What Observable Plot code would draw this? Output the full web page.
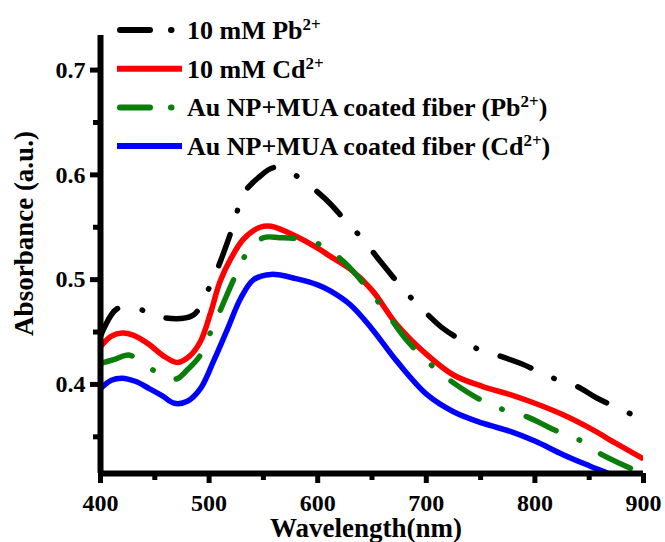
<!DOCTYPE html>
<html>
<head>
<meta charset="utf-8">
<script src="https://cdn.jsdelivr.net/npm/d3@7"></script>
<script src="https://cdn.jsdelivr.net/npm/@observablehq/plot@0.6"></script>
<style>
  html, body { margin: 0; padding: 0; background: #fff; }
  #wrap { position: relative; width: 665px; height: 542px; }
  #legend { position: absolute; left: 0; top: 0; }
</style>
</head>
<body>
<div id="wrap"></div>
<script>
// ---- data ----
const pbWl  = [400, 415, 435, 455, 485, 497, 506, 517, 524, 531, 545, 560, 577, 596, 612, 624, 642, 658, 683, 701, 716, 747, 768, 787, 817, 839, 857, 888];
const pbAbs = [0.446, 0.472, 0.472, 0.464, 0.466, 0.486, 0.506, 0.536, 0.558, 0.581, 0.597, 0.607, 0.601, 0.587, 0.572, 0.558, 0.538, 0.517, 0.486, 0.467, 0.453, 0.434, 0.427, 0.420, 0.406, 0.398, 0.387, 0.372];

const cdWl  = [400, 410, 420, 430, 445, 457, 471, 482, 492, 501, 510, 520, 532, 547, 557, 581, 600, 612, 630, 650, 673, 701, 725, 752, 778, 800, 826, 851, 876, 900];
const cdAbs = [0.436, 0.446, 0.449, 0.447, 0.438, 0.428, 0.421, 0.427, 0.441, 0.467, 0.498, 0.520, 0.539, 0.550, 0.551, 0.541, 0.530, 0.522, 0.510, 0.490, 0.457, 0.428, 0.409, 0.398, 0.390, 0.382, 0.371, 0.358, 0.343, 0.329];

const fibPbWl  = [400, 413, 426, 437, 448, 469, 480, 492, 501, 510, 523, 534, 550, 565, 582, 603, 624, 648, 667, 683, 704, 719, 747, 768, 793, 817, 839, 860, 888];
const fibPbAbs = [0.420, 0.424, 0.428, 0.422, 0.414, 0.405, 0.414, 0.428, 0.449, 0.470, 0.501, 0.524, 0.540, 0.540, 0.539, 0.533, 0.517, 0.489, 0.463, 0.441, 0.419, 0.406, 0.387, 0.377, 0.369, 0.357, 0.348, 0.334, 0.320];

const fibCdWl  = [400, 410, 420, 432, 445, 457, 468, 480, 492, 504, 517, 529, 541, 557, 580, 600, 612, 630, 650, 673, 701, 725, 752, 778, 800, 826, 851, 870, 880];
const fibCdAbs = [0.396, 0.404, 0.406, 0.403, 0.396, 0.389, 0.382, 0.384, 0.396, 0.422, 0.453, 0.482, 0.500, 0.505, 0.501, 0.495, 0.489, 0.476, 0.453, 0.422, 0.390, 0.374, 0.363, 0.355, 0.346, 0.333, 0.322, 0.314, 0.308];

const xDomain = [400, 900];
const yDomain = [0.315, 0.733];
const xTicks = [400, 500, 600, 700, 800, 900];
const xMinor = [450, 550, 650, 750, 850];
const yTicks = [0.4, 0.5, 0.6, 0.7];
const yMinor = [0.35, 0.45, 0.55, 0.65];

const seriesNames = ["10 mM Pb", "10 mM Cd", "Au NP+MUA coated fiber (Pb", "Au NP+MUA coated fiber (Cd"];
const seriesSup = ["2+", "2+", "2+", "2+"];
const seriesTail = ["", "", ")", ")"];
const seriesColors = ["#000000", "#ff0000", "#0a7d0a", "#0000ff"];
const seriesDash = ["33,25,0.5,25", null, "33,25,0.5,25", null];
const legendDash = "30,21,0.5,21";

const FONT = "'Liberation Serif', 'Times New Roman', serif";
const LW = 5.5;

const lineOpts = (i) => ({
  stroke: seriesColors[i],
  strokeWidth: LW,
  strokeDasharray: seriesDash[i] || undefined,
  strokeLinecap: seriesDash[i] ? "round" : "butt",
  curve: "catmull-rom",
  clip: true
});

const chart = Plot.plot({
  width: 665,
  height: 542,
  marginLeft: 100,
  marginRight: 22,
  marginTop: 35,
  marginBottom: 69,
  x: { domain: xDomain },
  y: { domain: yDomain },
  style: { fontFamily: FONT, fontWeight: "bold", fontSize: "24px", background: "white", color: "black" },
  marks: [
    Plot.line(pbAbs, { x: pbWl, y: pbAbs, ...lineOpts(0) }),
    Plot.line(cdAbs, { x: cdWl, y: cdAbs, ...lineOpts(1) }),
    Plot.line(fibPbAbs, { x: fibPbWl, y: fibPbAbs, ...lineOpts(2) }),
    Plot.line(fibCdAbs, { x: fibCdWl, y: fibCdAbs, ...lineOpts(3) }),
    Plot.ruleY([yDomain[0]], { stroke: "black", strokeWidth: 6 }),
    Plot.ruleX([xDomain[0]], { stroke: "black", strokeWidth: 6 }),
    Plot.axisX(xTicks, { tickSize: 10, strokeWidth: 5, tickPadding: 10, label: null, fontSize: 24, fontWeight: "bold" }),
    Plot.axisX(xMinor, { tickSize: 7, strokeWidth: 5, tickFormat: () => "", label: null }),
    Plot.axisY(yTicks, { tickSize: 10, strokeWidth: 5, tickPadding: 5, label: null, tickFormat: d => d.toFixed(1), fontSize: 24, fontWeight: "bold" }),
    Plot.axisY(yMinor, { tickSize: 7, strokeWidth: 5, tickFormat: () => "", label: null }),
    Plot.text(["Wavelength(nm)"], { frameAnchor: "bottom", dy: 55, dx: -6, fontSize: 27, fontWeight: "bold", lineAnchor: "middle" }),
    Plot.text(["Absorbance (a.u.)"], { frameAnchor: "left", textAnchor: "middle", rotate: -90, dx: -76, dy: -21, fontSize: 27, fontWeight: "bold", lineAnchor: "middle" })
  ]
});

const wrap = document.getElementById("wrap");
wrap.appendChild(chart);

// ---- legend (overlay, top-left inside the plot) ----
const NS = "http://www.w3.org/2000/svg";
const leg = document.createElementNS(NS, "svg");
leg.setAttribute("id", "legend");
leg.setAttribute("width", 665);
leg.setAttribute("height", 170);
const rowY0 = 30, rowStep = 38.7, lx0 = 117, lx1 = 182, tx = 187;
seriesNames.forEach((name, i) => {
  const cy = rowY0 + i * rowStep;
  const ln = document.createElementNS(NS, "line");
  ln.setAttribute("x1", lx0 + (seriesDash[i] ? 3 : 0));
  ln.setAttribute("x2", lx1 - (seriesDash[i] ? 3 : 0));
  ln.setAttribute("y1", cy);
  ln.setAttribute("y2", cy);
  ln.setAttribute("stroke", seriesColors[i]);
  ln.setAttribute("stroke-width", 6);
  if (seriesDash[i]) {
    ln.setAttribute("stroke-dasharray", legendDash);
    ln.setAttribute("stroke-linecap", "round");
  }
  leg.appendChild(ln);
  const t = document.createElementNS(NS, "text");
  t.setAttribute("x", tx);
  t.setAttribute("y", cy + 9);
  t.setAttribute("font-family", FONT);
  t.setAttribute("font-weight", "bold");
  t.setAttribute("font-size", 26);
  t.appendChild(document.createTextNode(name));
  const sup = document.createElementNS(NS, "tspan");
  sup.setAttribute("font-size", 17);
  sup.setAttribute("dy", -9);
  sup.textContent = seriesSup[i];
  t.appendChild(sup);
  if (seriesTail[i]) {
    const tail = document.createElementNS(NS, "tspan");
    tail.setAttribute("dy", 9);
    tail.textContent = seriesTail[i];
    t.appendChild(tail);
  }
  leg.appendChild(t);
});
wrap.appendChild(leg);
</script>
</body>
</html>
